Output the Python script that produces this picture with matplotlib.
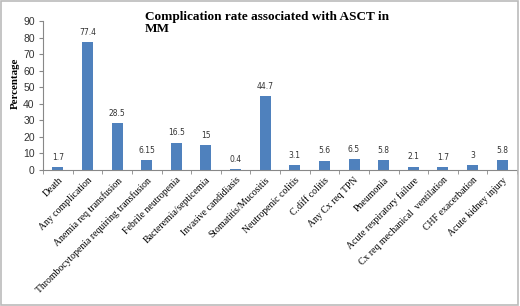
import matplotlib.pyplot as plt
import numpy as np

categories = ['Death', 'Any complication', 'Anemia req transfusion',
              'Thrombocytopenia requiring transfusion', 'Febrile neutropenia',
              'Bacteremia/septicemia', 'Invasive candidiasis', 'Stomatitis/Mucositis',
              'Neutropenic colitis', 'C.diff colitis', 'Any Cx req TPN', 'Pneumonia',
              'Acute respiratory failure', 'Cx req mechanical  ventilation',
              'CHF exacerbation', 'Acute kidney injury']
values = [1.7, 77.4, 28.5, 6.15, 16.5, 15, 0.4, 44.7, 3.1, 5.6, 6.5, 5.8, 2.1, 1.7, 3, 5.8]
value_labels = ['1.7', '77.4', '28.5', '6.15', '16.5', '15', '0.4', '44.7',
                '3.1', '5.6', '6.5', '5.8', '2.1', '1.7', '3', '5.8']
yticks = [0, 10, 20, 30, 40, 50, 60, 70, 80, 90]

fig = plt.figure(figsize=(5.2, 3.06), dpi=100)
ax = fig.add_axes([43 / 520, 1 - 170 / 306, (517 - 43) / 520, (170 - 21) / 306])

x = np.arange(len(categories))
ax.bar(x, values, width=0.37, color='#4F81BD')
for xi, v, lab in zip(x, values, value_labels):
    ax.text(xi, v + 3.2, lab, ha='center', va='bottom', fontsize=5.5,
            family='DejaVu Sans', color='#333333')

ax.set_xlim(-0.5, len(categories) - 0.5)
ax.set_ylim(0, 90)
ax.set_yticks(yticks)
ax.set_yticklabels([str(t) for t in yticks], fontsize=7.5, family='Liberation Sans', color='#333333')
ax.set_xticks(x)
ax.set_xticklabels(categories, rotation=45, ha='right', rotation_mode='anchor',
                   fontsize=7, family='Liberation Serif')
ax.set_xticks(np.arange(-0.5, len(categories)), minor=True)
ax.tick_params(axis='x', which='major', length=0, pad=4)
ax.tick_params(axis='x', which='minor', length=3, color='#888888')
ax.tick_params(axis='y', length=3, color='#888888', pad=3)
for s in ['top', 'right']:
    ax.spines[s].set_visible(False)
ax.spines['left'].set_color('#888888')
ax.spines['bottom'].set_color('#888888')
ax.set_ylabel('Percentage', fontsize=7.8, fontweight='bold', family='Liberation Serif')
ax.yaxis.set_label_coords(-23 / 474, 0.58)

fig.text(145 / 520, 1 - 11 / 306, 'Complication rate associated with ASCT in\nMM',
         fontsize=9.5, fontweight='bold', family='Liberation Serif', ha='left', va='top',
         linespacing=1.0)

fig.patches.append(plt.Rectangle((0.002, 0.002), 0.994, 0.994, transform=fig.transFigure,
                                 fill=False, edgecolor='#BBBBBB', linewidth=1.2))

fig.savefig('out.png', dpi=100)
